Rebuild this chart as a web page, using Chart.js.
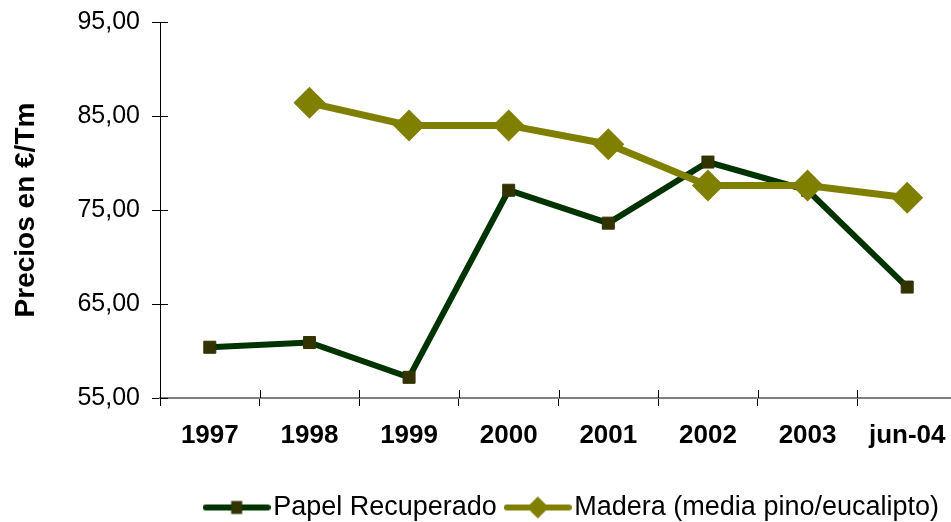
<!DOCTYPE html>
<html>
<head>
<meta charset="utf-8">
<script src="https://cdn.jsdelivr.net/npm/chart.js@4.4.0/dist/chart.umd.min.js"></script>
<style>
  html, body { margin: 0; padding: 0; background: #fff; overflow: hidden; }
  #wrap { width: 957px; height: 522px; }
</style>
</head>
<body>
<div id="wrap"><canvas id="precios"></canvas></div>
<script>
// Datos
const categorias = ['1997', '1998', '1999', '2000', '2001', '2002', '2003', 'jun-04'];
const papelRecuperado = [60.4, 60.9, 57.2, 77.1, 73.6, 80.1, 77.1, 66.8];
const madera = [null, 86.4, 84.0, 84.0, 82.0, 77.6, 77.6, 76.3];
const ticksY = [55, 65, 75, 85, 95];

const colorPapel = '#003300';
const colorMarcaPapel = '#333300';
const colorMadera = '#808000';

Chart.defaults.font.family = "'Liberation Sans', Arial, sans-serif";
Chart.defaults.color = '#000';

// Simbolos de la leyenda: linea con el marcador en el centro
function simbolo(color, marca) {
    const c = document.createElement('canvas');
    c.width = 68; c.height = 26;
    const ctx = c.getContext('2d');
    ctx.strokeStyle = color;
    ctx.lineWidth = 6;
    ctx.lineCap = 'round';
    ctx.beginPath();
    ctx.moveTo(3, 13);
    ctx.lineTo(65, 13);
    ctx.stroke();
    if (marca === 'cuadrado') {
        ctx.fillStyle = colorMarcaPapel;
        ctx.fillRect(28.5, 6.5, 11, 13);
    } else {
        ctx.fillStyle = color;
        ctx.beginPath();
        ctx.moveTo(34, 2);
        ctx.lineTo(45, 13);
        ctx.lineTo(34, 24);
        ctx.lineTo(23, 13);
        ctx.closePath();
        ctx.fill();
    }
    return c;
}
const simbolos = [simbolo(colorMadera, 'rombo'), simbolo(colorPapel, 'cuadrado')];

// Marcas de division hacia dentro del area (cruzan el eje)
const marcasInternas = {
    id: 'marcasInternas',
    beforeDatasetsDraw(chart) {
        const ctx = chart.ctx;
        const x = chart.scales.x, y = chart.scales.y;
        const area = chart.chartArea;
        ctx.save();
        ctx.strokeStyle = '#000';
        ctx.lineWidth = 1;
        ctx.beginPath();
        ticksY.forEach(v => {
            const py = Math.round(y.getPixelForValue(v)) + 0.5;
            ctx.moveTo(area.left, py);
            ctx.lineTo(area.left + 8, py);
        });
        const n = categorias.length;
        for (let i = 0; i <= n; i++) {
            const px = Math.round(x.left + i * x.width / n) + 0.5;
            ctx.moveTo(px, area.bottom);
            ctx.lineTo(px, area.bottom - 8);
        }
        ctx.stroke();
        ctx.restore();
    }
};

const ctx = document.getElementById('precios').getContext('2d');
const chart = new Chart(ctx, {
    type: 'line',
    data: {
        labels: categorias,
        datasets: [{
            label: 'Madera (media pino/eucalipto)',
            data: madera,
            borderColor: colorMadera,
            backgroundColor: colorMadera,
            borderWidth: 7,
            pointStyle: 'rectRot',
            pointRadius: 16,
            pointBorderWidth: 0,
            tension: 0
        }, {
            label: 'Papel Recuperado',
            data: papelRecuperado,
            borderColor: colorPapel,
            backgroundColor: colorMarcaPapel,
            pointBorderColor: colorMarcaPapel,
            borderWidth: 6,
            pointStyle: 'rect',
            pointRadius: 8.5,
            pointBorderWidth: 1,
            tension: 0
        }]
    },
    options: {
        responsive: true,
        maintainAspectRatio: false,
        animation: false,
        layout: {
            autoPadding: false,
            padding: { left: 0, top: 22, right: 0, bottom: -9 }
        },
        plugins: {
            tooltip: { enabled: false },
            legend: {
                position: 'bottom',
                align: 'end',
                reverse: true,
                labels: {
                    usePointStyle: true,
                    pointStyleWidth: 46,
                    padding: 18,
                    font: { size: 27 },
                    color: '#000',
                    generateLabels: function(chart) {
                        return chart.data.datasets.map((ds, i) => ({
                            text: ds.label,
                            pointStyle: simbolos[i],
                            datasetIndex: i,
                            hidden: false,
                            lineWidth: 0,
                            fillStyle: 'transparent',
                            strokeStyle: 'transparent',
                            fontColor: '#000'
                        }));
                    }
                }
            }
        },
        scales: {
            x: {
                offset: true,
                afterFit: function(scale) {
                    scale.height = 78;
                    scale.paddingLeft = 0;
                    scale.paddingRight = 0;
                },
                grid: {
                    offset: true,
                    drawOnChartArea: false,
                    drawTicks: true,
                    tickLength: 8,
                    color: '#000'
                },
                border: { color: '#808080', width: 2 },
                ticks: {
                    padding: 0,
                    maxRotation: 0,
                    font: { size: 26, weight: 'bold', lineHeight: 2.3 },
                    color: '#000'
                }
            },
            y: {
                min: 55,
                max: 95,
                afterFit: function(scale) {
                    scale.width = 160;
                    scale.paddingTop = 0;
                    scale.paddingBottom = 0;
                },
                afterBuildTicks: function(scale) {
                    scale.ticks = ticksY.map(v => ({ value: v }));
                },
                grid: {
                    drawOnChartArea: false,
                    drawTicks: true,
                    tickLength: 8,
                    color: '#000'
                },
                border: { color: '#000', width: 1 },
                title: {
                    display: true,
                    text: 'Precios en €/Tm',
                    font: { size: 28, weight: 'bold' },
                    padding: { top: 9, bottom: 0 },
                    color: '#000'
                },
                ticks: {
                    padding: 12,
                    font: { size: 25 },
                    color: '#000',
                    callback: function(value) {
                        return value.toFixed(2).replace('.', ',');
                    }
                }
            }
        }
    },
    plugins: [marcasInternas]
});
</script>
</body>
</html>
